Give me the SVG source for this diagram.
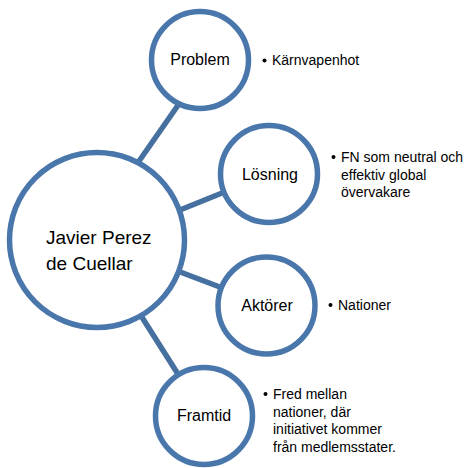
<svg xmlns="http://www.w3.org/2000/svg" width="467" height="468" viewBox="0 0 467 468">
<style>
.node{fill:#fff;stroke:#4a77ab;stroke-width:5.5}
.conn{stroke:#45709f;stroke-width:5.5;fill:none}
.lbl{font-family:"Liberation Sans",Arial,sans-serif;font-size:16px;fill:#000;text-anchor:middle}
.main{font-family:"Liberation Sans",Arial,sans-serif;font-size:19px;fill:#000}
.bul{font-family:"Liberation Sans",Arial,sans-serif;font-size:14px;fill:#000}
</style>
<rect width="467" height="468" fill="#fff"/>
<g id="connectors">
<line class="conn" x1="181" y1="101" x2="137" y2="164"/>
<line class="conn" x1="227" y1="191" x2="175" y2="212"/>
<line class="conn" x1="175" y1="270" x2="225" y2="289"/>
<line class="conn" x1="138" y1="311" x2="183" y2="382"/>
</g>
<g id="main">
<circle class="node" cx="97" cy="240" r="87.5"/>
<text class="main" x="46" y="244">Javier Perez</text>
<text class="main" x="46" y="270">de Cuellar</text>
</g>
<g id="problem">
<circle class="node" cx="200" cy="60" r="48.5"/>
<text class="lbl" x="200" y="65">Problem</text>
</g>
<g id="losning">
<circle class="node" cx="269" cy="174" r="48.5"/>
<text class="lbl" x="270" y="180">Lösning</text>
</g>
<g id="aktorer">
<circle class="node" cx="266.5" cy="305.5" r="48.5"/>
<text class="lbl" x="267" y="311">Aktörer</text>
</g>
<g id="framtid">
<circle class="node" cx="204" cy="416" r="48.5"/>
<text class="lbl" x="204" y="421">Framtid</text>
</g>
<g id="bullets">
<circle cx="264.5" cy="60.5" r="2" fill="#000"/>
<text class="bul" x="272" y="65">Kärnvapenhot</text>
<circle cx="333.5" cy="157" r="2" fill="#000"/>
<text class="bul" x="341" y="162">FN som neutral och</text>
<text class="bul" x="341" y="180">effektiv global</text>
<text class="bul" x="341" y="197">övervakare</text>
<circle cx="330.5" cy="305" r="2" fill="#000"/>
<text class="bul" x="338" y="310">Nationer</text>
<circle cx="265.5" cy="394" r="2" fill="#000"/>
<text class="bul" x="273" y="399">Fred mellan</text>
<text class="bul" x="273" y="417">nationer, där</text>
<text class="bul" x="273" y="434">initiativet kommer</text>
<text class="bul" x="273" y="452">från medlemsstater.</text>
</g>
</svg>
